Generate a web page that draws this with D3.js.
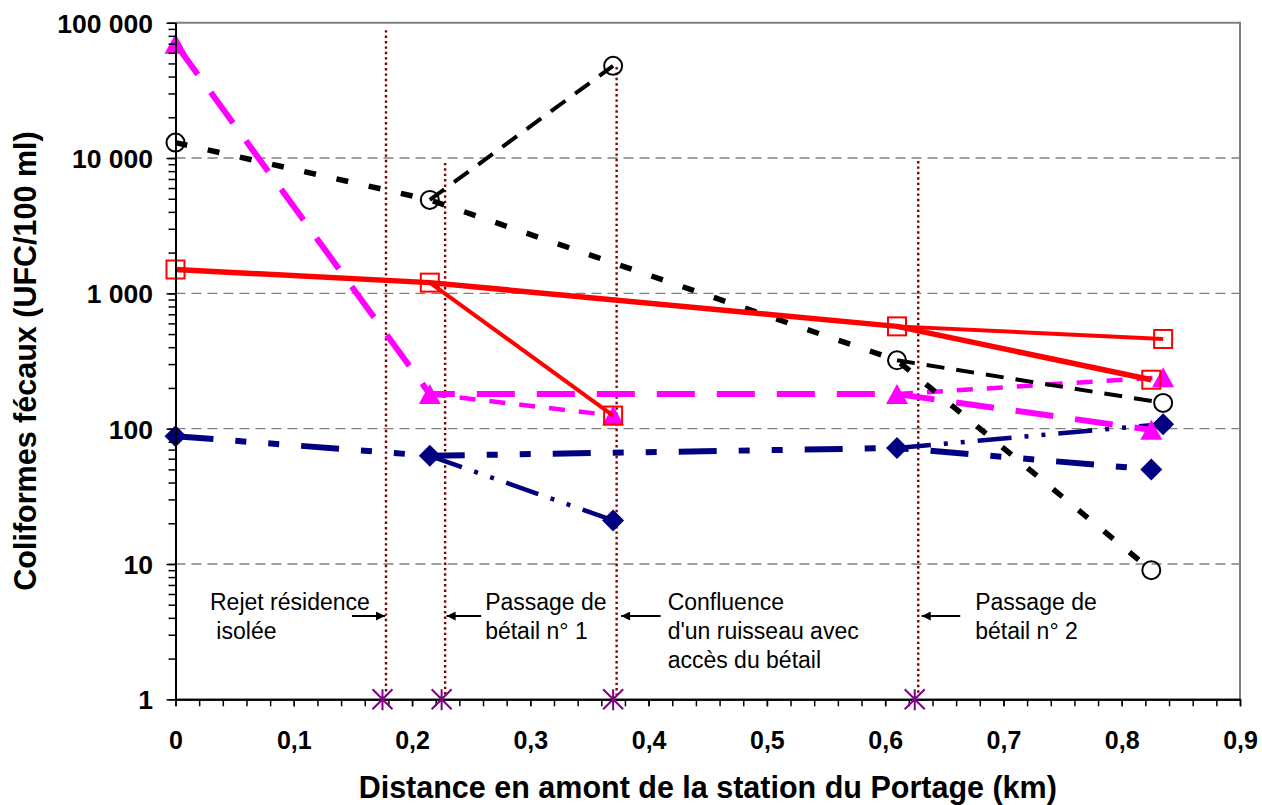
<!DOCTYPE html>
<html lang="fr">
<head>
<meta charset="utf-8">
<script src="https://cdn.jsdelivr.net/npm/d3@7"></script>
<style>
  html, body { margin: 0; padding: 0; background: #fff; }
  svg { display: block; font-family: "Liberation Sans", Arial, sans-serif; }
</style>
</head>
<body>
<svg id="chart" width="1262" height="805"></svg>
<script>
// Distances (km) upstream of the Portage station, per reach
const distPrincipal = [0, 0.215, 0.61, 0.825];   // main stem
const distRuisseau  = [0.215, 0.37];             // tributary branch
const distAmont     = [0.61, 0.835];             // upstream branch

// Fecal coliforms (UFC/100 ml), one set per sampling campaign
const cerclesPrincipal   = [13000, 4900, 320, 9];
const cerclesRuisseau    = [4900, 48000];
const cerclesAmont       = [320, 155];

const carresPrincipal    = [1500, 1200, 570, 230];
const carresRuisseau     = [1200, 125];
const carresAmont        = [570, 460];

const trianglesPrincipal = [70000, 180, 180, 98];
const trianglesRuisseau  = [180, 125];
const trianglesAmont     = [180, 240];

const losangesPrincipal  = [88, 63, 72, 50];
const losangesRuisseau   = [63, 21];
const losangesAmont      = [72, 108];

// Pollution sources located along the stream
const sourcesDist  = [0.175, 0.225, 0.37, 0.625];
const sourcesHaut  = [88000, 9200, 47000, 9500];
const sourcesTexte = [
  ["Rejet résidence", " isolée"],
  ["Passage de", "bétail n° 1"],
  ["Confluence", "d'un ruisseau avec", "accès du bétail"],
  ["Passage de", "bétail n° 2"]
];

// Axis ticks
const xTicks = [0, 0.1, 0.2, 0.3, 0.4, 0.5, 0.6, 0.7, 0.8, 0.9];
const yTicks = [1, 10, 100, 1000, 10000, 100000];

// ---------------------------------------------------------------
const W = 1262, H = 805;
const plot = { left: 175.5, top: 22.7, right: 1240, bottom: 699.3 };

const x = d3.scaleLinear().domain([0, 0.9]).range([plot.left, plot.right]);
const y = d3.scaleLog().domain([1, 100000]).range([plot.bottom, plot.top]);

const fr = d3.formatLocale({ decimal: ",", thousands: " ", grouping: [3], currency: ["", ""] });
const fmtY = fr.format(",d");
const fmtX = fr.format("~g");

const svg = d3.select("#chart");

const defs = svg.append("defs");
defs.append("marker")
  .attr("id", "fleche")
  .attr("viewBox", "0 0 10 10")
  .attr("refX", 10).attr("refY", 5)
  .attr("markerWidth", 11).attr("markerHeight", 9)
  .attr("markerUnits", "userSpaceOnUse")
  .attr("orient", "auto")
  .append("path").attr("d", "M0,0L10,5L0,10Z").attr("fill", "#000");

// Horizontal grid (dashed) at each decade
svg.append("g")
  .selectAll("line")
  .data(yTicks.filter(v => v > 1 && v < 100000))
  .join("line")
  .attr("x1", plot.left).attr("x2", plot.right)
  .attr("y1", d => y(d)).attr("y2", d => y(d))
  .attr("stroke", "#808080")
  .attr("stroke-width", 1.3)
  .attr("stroke-dasharray", "10,6");

// Plot frame: top and right in grey
svg.append("path")
  .attr("d", `M${plot.left},${plot.top}H${plot.right}V${plot.bottom}`)
  .attr("fill", "none")
  .attr("stroke", "#808080")
  .attr("stroke-width", 2);

// Vertical dotted lines marking the sources
const decalage = 3.5;
svg.append("g")
  .selectAll("line")
  .data(sourcesDist)
  .join("line")
  .attr("x1", d => x(d) + decalage).attr("x2", d => x(d) + decalage)
  .attr("y1", (d, i) => y(sourcesHaut[i]))
  .attr("y2", y(1) - 4)
  .attr("stroke", "#800000")
  .attr("stroke-width", 2.4)
  .attr("stroke-dasharray", "2.4,3");

// Series styles
const styles = {
  losanges: {
    couleur: "#000080",
    principal: { largeur: 6, tirets: "38,22,11,22,11,22" },
    branche:   { largeur: 4.5, tirets: "34,13,4,13,4,13" },
    symbole: "losange"
  },
  triangles: {
    couleur: "#FF00FF",
    principal: { largeur: 6, tirets: "38,22" },
    branche:   { largeur: 4.5, tirets: "16,14" },
    symbole: "triangle"
  },
  cercles: {
    couleur: "#000000",
    principal: { largeur: 5.5, tirets: "12,21" },
    branche:   { largeur: 4, tirets: "18,12" },
    symbole: "cercle"
  },
  carres: {
    couleur: "#FF0000",
    principal: { largeur: 5.5, tirets: null },
    branche:   { largeur: 4, tirets: null },
    symbole: "carre"
  }
};

const campagnes = [
  { nom: "losanges",  principal: losangesPrincipal,  ruisseau: losangesRuisseau,  amont: losangesAmont },
  { nom: "triangles", principal: trianglesPrincipal, ruisseau: trianglesRuisseau, amont: trianglesAmont },
  { nom: "cercles",   principal: cerclesPrincipal,   ruisseau: cerclesRuisseau,   amont: cerclesAmont },
  { nom: "carres",    principal: carresPrincipal,    ruisseau: carresRuisseau,    amont: carresAmont }
];

const ligne = d3.line().x(d => x(d[0])).y(d => y(d[1]));
const zip = (xs, vs) => xs.map((d, i) => [d, vs[i]]);

const symboles = {
  losange:  "M0,-11L11,0L0,11L-11,0Z",
  triangle: "M0,-10L11,10L-11,10Z"
};

campagnes.forEach(c => {
  const st = styles[c.nom];
  const g = svg.append("g").attr("class", "campagne-" + c.nom);

  const traces = [
    { pts: zip(distRuisseau, c.ruisseau), s: st.branche },
    { pts: zip(distAmont, c.amont), s: st.branche },
    { pts: zip(distPrincipal, c.principal), s: st.principal }
  ];
  traces.forEach(t => {
    g.append("path")
      .attr("d", ligne(t.pts))
      .attr("fill", "none")
      .attr("stroke", st.couleur)
      .attr("stroke-width", t.s.largeur)
      .attr("stroke-linejoin", "round")
      .attr("stroke-dasharray", t.s.tirets);
  });

  const points = zip(distPrincipal, c.principal)
    .concat([[distRuisseau[1], c.ruisseau[1]], [distAmont[1], c.amont[1]]]);

  const m = g.selectAll(".marque").data(points).join("g")
    .attr("class", "marque")
    .attr("transform", d => `translate(${x(d[0])},${y(d[1])})`);

  if (st.symbole === "cercle") {
    m.append("circle").attr("r", 9)
      .attr("fill", "none").attr("stroke", st.couleur).attr("stroke-width", 2);
  } else if (st.symbole === "carre") {
    m.append("rect").attr("x", -9).attr("y", -9).attr("width", 18).attr("height", 18)
      .attr("fill", "none").attr("stroke", st.couleur).attr("stroke-width", 2);
  } else {
    m.append("path").attr("d", symboles[st.symbole]).attr("fill", st.couleur);
  }
});

// Axes
const axeY = svg.append("g").attr("transform", `translate(${plot.left},0)`);
axeY.call(d3.axisLeft(y).tickValues(y.ticks()).tickSize(7).tickSizeOuter(0).tickFormat(""));
axeY.selectAll(".tick line").attr("stroke", "#000").attr("stroke-width", 1.5);
const axeYMaj = svg.append("g").attr("transform", `translate(${plot.left},0)`);
axeYMaj.call(d3.axisLeft(y).tickValues(yTicks).tickSize(9).tickSizeOuter(0).tickPadding(13.5).tickFormat(fmtY));
axeYMaj.selectAll(".tick line").attr("stroke", "#000").attr("stroke-width", 1.5);
axeYMaj.selectAll("text").attr("font-family", "Liberation Sans, Arial, sans-serif")
  .attr("font-size", 26.5).attr("font-weight", "bold").attr("fill", "#000").attr("dy", "0.36em");
[axeY, axeYMaj].forEach(a => a.select(".domain").attr("stroke", "#000").attr("stroke-width", 2));

const axeX = svg.append("g").attr("transform", `translate(0,${plot.bottom})`);
axeX.call(d3.axisBottom(x).tickValues(d3.range(0, 46).map(i => i * 0.02)).tickSize(7).tickSizeOuter(0).tickFormat(""));
axeX.selectAll(".tick line").attr("stroke", "#000").attr("stroke-width", 1.5);
const axeXMaj = svg.append("g").attr("transform", `translate(0,${plot.bottom})`);
axeXMaj.call(d3.axisBottom(x).tickValues(xTicks).tickSize(7).tickSizeOuter(0).tickPadding(25).tickFormat(fmtX));
axeXMaj.selectAll(".tick line").attr("stroke", "#000").attr("stroke-width", 1.5);
axeXMaj.selectAll("text").attr("font-family", "Liberation Sans, Arial, sans-serif")
  .attr("font-size", 25).attr("font-weight", "bold").attr("fill", "#000");
[axeX, axeXMaj].forEach(a => a.select(".domain").attr("stroke", "#000").attr("stroke-width", 2));

// Source markers on the x axis
svg.append("g")
  .selectAll("path")
  .data(sourcesDist)
  .join("path")
  .attr("transform", d => `translate(${x(d)},${y(1)})`)
  .attr("d", "M0,-10V11M-10,-10L10,10M-10,10L10,-10")
  .attr("fill", "none")
  .attr("stroke", "#800080")
  .attr("stroke-width", 2);

// Source annotations: text block + arrow pointing at the dotted line
const annoLayout = [
  { texteDx: -176, queueDx: -34, pointeDx: -1 },
  { texteDx: 40,   queueDx: 36,  pointeDx: 1.5 },
  { texteDx: 51,   queueDx: 44,  pointeDx: 4.5 },
  { texteDx: 57,   queueDx: 42,  pointeDx: 3.5 }
];
const premiereLigne = 610, interligne = 28.8, flecheY = 616;

const annos = svg.append("g").selectAll("g").data(sourcesDist).join("g");
annos.each(function (d, i) {
  const g = d3.select(this);
  const lx = x(d) + decalage;
  const L = annoLayout[i];
  g.append("line")
    .attr("x1", lx + L.queueDx).attr("x2", lx + L.pointeDx)
    .attr("y1", flecheY).attr("y2", flecheY)
    .attr("stroke", "#000").attr("stroke-width", 2)
    .attr("marker-end", "url(#fleche)");
  const t = g.append("text")
    .attr("font-size", 23)
    .attr("fill", "#000")
    .style("white-space", "pre");
  sourcesTexte[i].forEach((s, k) => {
    t.append("tspan")
      .attr("x", lx + L.texteDx)
      .attr("y", premiereLigne + k * interligne)
      .text(s);
  });
});

// Axis titles
svg.append("text")
  .attr("x", (plot.left + plot.right) / 2)
  .attr("y", 798)
  .attr("text-anchor", "middle")
  .attr("font-size", 30.5).attr("font-weight", "bold")
  .text("Distance en amont de la station du Portage (km)");

svg.append("text")
  .attr("transform", `translate(36,${(plot.top + plot.bottom) / 2}) rotate(-90)`)
  .attr("text-anchor", "middle")
  .attr("font-size", 30.5).attr("font-weight", "bold")
  .text("Coliformes fécaux (UFC/100 ml)");
</script>
</body>
</html>
